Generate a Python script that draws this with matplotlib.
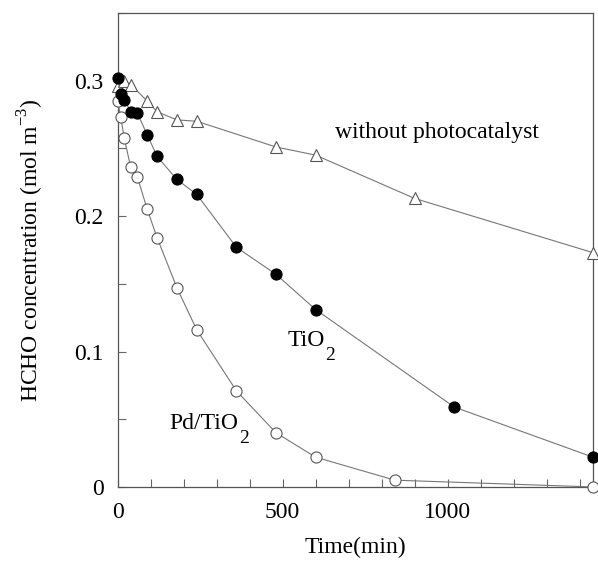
import matplotlib
matplotlib.use('Agg')
import matplotlib.pyplot as plt
from matplotlib.ticker import MultipleLocator

plt.rcParams['font.family'] = ['Liberation Serif', 'DejaVu Serif']
plt.rcParams['mathtext.fontset'] = 'custom'
plt.rcParams['mathtext.rm'] = 'Liberation Serif'

# without photocatalyst (open triangles)
t_blank = [0, 20, 40, 90, 120, 180, 240, 480, 600, 900, 1440]
c_blank = [0.296, 0.300, 0.297, 0.285, 0.277, 0.271, 0.270, 0.251, 0.245, 0.213, 0.173]

# TiO2 (filled circles)
t_tio2 = [0, 10, 20, 40, 60, 90, 120, 180, 240, 360, 480, 600, 1020, 1440]
c_tio2 = [0.302, 0.290, 0.286, 0.277, 0.276, 0.260, 0.244, 0.227, 0.216, 0.177, 0.157, 0.131, 0.059, 0.022]

# Pd/TiO2 (open circles)
t_pd = [0, 10, 20, 40, 60, 90, 120, 180, 240, 360, 480, 600, 840, 1440]
c_pd = [0.285, 0.273, 0.258, 0.236, 0.229, 0.205, 0.184, 0.147, 0.116, 0.071, 0.040, 0.022, 0.005, 0.0]

fig = plt.figure(figsize=(5.98, 5.61), dpi=100)
ax = fig.add_axes([0.1965, 0.132, 0.795, 0.845])

lc = '#777777'
ax.plot(t_blank, c_blank, '-', color=lc, lw=0.8, marker='^', ms=8, mfc='white', mec='#555555', mew=0.8, clip_on=False, zorder=3)
ax.plot(t_pd, c_pd, '-', color=lc, lw=0.8, marker='o', ms=8, mfc='white', mec='#555555', mew=0.8, clip_on=False, zorder=4)
ax.plot(t_tio2, c_tio2, '-', color=lc, lw=0.8, marker='o', ms=8, mfc='black', mec='black', mew=0.8, clip_on=False, zorder=5)

ax.set_xlim(0, 1440)
ax.set_ylim(0, 0.35)
ax.xaxis.set_minor_locator(MultipleLocator(100))
ax.yaxis.set_minor_locator(MultipleLocator(0.05))
ax.set_xticks([0, 500, 1000])
ax.set_xticklabels(['0', '500', '1000'])
ax.set_yticks([0, 0.1, 0.2, 0.3])
ax.set_yticklabels(['0', '0.1', '0.2', '0.3'])
ax.tick_params(which='both', direction='in', length=6, width=0.8, color='#666666',
               labelsize=17, top=False, right=False)
ax.tick_params(axis='x', pad=11)
ax.tick_params(axis='y', pad=10)
for s in ax.spines.values():
    s.set_color('#555555')
    s.set_linewidth(0.9)

ax.set_xlabel('Time(min)', fontsize=17, labelpad=10)
ax.set_ylabel('HCHO concentration (mol m$^{-3}$)', fontsize=17, labelpad=20)


def label_with_sub(x, y, main, sub):
    t = ax.text(x, y, main, fontsize=17, va='center', ha='left')
    fig.canvas.draw()
    bb = t.get_window_extent()
    inv = ax.transData.inverted()
    xr, _ = inv.transform((bb.x1, bb.y0))
    ax.annotate(sub, (xr, y), xytext=(0, -11), textcoords='offset points',
                fontsize=14, va='center', ha='left')


ax.text(658, 0.262, 'without photocatalyst', fontsize=17, va='center', ha='left')
label_with_sub(516, 0.108, 'TiO', '2')
label_with_sub(158, 0.047, 'Pd/TiO', '2')

fig.savefig('out.png', dpi=100)
